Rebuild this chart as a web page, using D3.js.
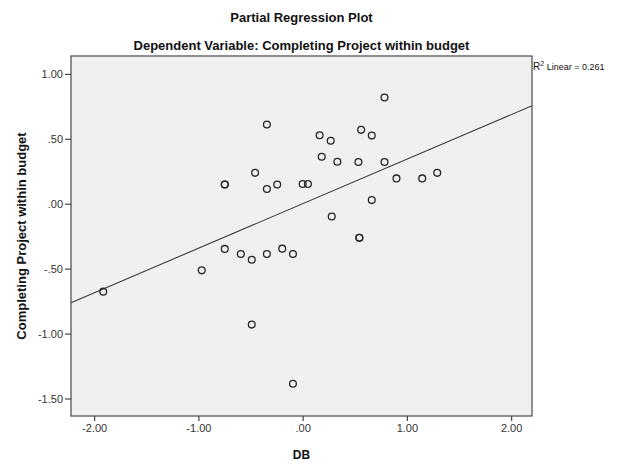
<!DOCTYPE html>
<html>
<head>
<meta charset="utf-8">
<script src="https://cdn.jsdelivr.net/npm/d3@7"></script>
<style>
  body { margin: 0; background: #fff; }
  text { font-family: "Liberation Sans", Arial, sans-serif; }
</style>
</head>
<body>
<div id="chart"></div>
<script>
// partial residuals
const dbValues = [0.785, -0.343, 0.163, 0.269, 0.561, 0.663, 0.183, 0.333, 0.535, 0.785,
  -0.747, -0.747, -0.456, -0.343, -0.244, 0.0, 0.051, 0.9, 1.147, 1.291,
  0.663, 0.279, 0.544, 0.544, -0.747, -0.593, -0.488, -0.343, -0.196, -0.093,
  -0.968, -0.488, -0.093, -1.913];
const budgetValues = [0.818, 0.61, 0.528, 0.485, 0.569, 0.525, 0.362, 0.323, 0.321, 0.321,
  0.148, 0.148, 0.238, 0.113, 0.148, 0.152, 0.152, 0.195, 0.195, 0.238,
  0.028, -0.098, -0.262, -0.262, -0.348, -0.387, -0.431, -0.387, -0.346, -0.387,
  -0.513, -0.931, -1.387, -0.677];
const xTicks = [-2, -1, 0, 1, 2];
const yTicks = [1, 0.5, 0, -0.5, -1, -1.5];
const fitSlope = 0.343;
const fitIntercept = 0.0;
const rSquared = 0.261;

const width = 631, height = 464;
const margin = { top: 56, right: 99, bottom: 48, left: 71 };
const innerWidth = width - margin.left - margin.right;
const innerHeight = height - margin.top - margin.bottom;

// SPSS style: ".50", "-1.00", plain hyphen
const fmt = v => {
  const s = Math.abs(v).toFixed(2).replace(/^0\./, ".");
  return (v < 0 ? "-" : "") + s;
};

const svg = d3.select("#chart").append("svg")
  .attr("width", width)
  .attr("height", height);

const g = svg.append("g").attr("transform", `translate(${margin.left}, ${margin.top})`);

const xScale = d3.scaleLinear().domain([-2.222, 2.2]).range([0, innerWidth]);
const yScale = d3.scaleLinear().domain([-1.635, 1.138]).range([innerHeight, 0]);

g.append("rect")
  .attr("width", innerWidth)
  .attr("height", innerHeight)
  .attr("fill", "#f0f0f0");

// fit line
const xd = xScale.domain();
g.append("line")
  .attr("x1", xScale(xd[0])).attr("y1", yScale(fitIntercept + fitSlope * xd[0]))
  .attr("x2", xScale(xd[1])).attr("y2", yScale(fitIntercept + fitSlope * xd[1]))
  .attr("stroke", "#3a3a3a")
  .attr("stroke-width", 1.1);

g.selectAll("circle.pt")
  .data(dbValues.map((d, i) => [d, budgetValues[i]]))
  .enter().append("circle")
  .attr("class", "pt")
  .attr("cx", d => xScale(d[0]))
  .attr("cy", d => yScale(d[1]))
  .attr("r", 3.4)
  .attr("fill", "none")
  .attr("stroke", "#262626")
  .attr("stroke-width", 1.3);

g.append("rect")
  .attr("width", innerWidth)
  .attr("height", innerHeight)
  .attr("fill", "none")
  .attr("stroke", "#555")
  .attr("stroke-width", 1.3);

const xAxis = g.append("g")
  .attr("transform", `translate(0, ${innerHeight})`)
  .call(d3.axisBottom(xScale).tickValues(xTicks).tickFormat(fmt).tickSize(5).tickPadding(3));
const yAxis = g.append("g")
  .call(d3.axisLeft(yScale).tickValues(yTicks).tickFormat(fmt).tickSize(6).tickPadding(2));

[xAxis, yAxis].forEach(a => {
  a.select(".domain").remove();
  a.selectAll(".tick line").attr("stroke", "#444").attr("stroke-width", 1.2);
  a.selectAll(".tick text")
    .attr("fill", "#333")
    .style("font-family", "'Liberation Sans', Arial, sans-serif")
    .style("font-size", "11px");
});

svg.append("text")
  .attr("x", margin.left + innerWidth / 2)
  .attr("y", 22)
  .attr("text-anchor", "middle")
  .style("font-size", "13px").style("font-weight", "bold")
  .attr("fill", "#111")
  .text("Partial Regression Plot");

svg.append("text")
  .attr("x", margin.left + innerWidth / 2)
  .attr("y", 50)
  .attr("text-anchor", "middle")
  .style("font-size", "13px").style("font-weight", "bold")
  .attr("fill", "#111")
  .text("Dependent Variable: Completing Project within budget");

svg.append("text")
  .attr("x", margin.left + innerWidth / 2)
  .attr("y", 459)
  .attr("text-anchor", "middle")
  .style("font-size", "12px").style("font-weight", "bold")
  .attr("fill", "#111")
  .text("DB");

svg.append("text")
  .attr("transform", `translate(26, ${margin.top + innerHeight / 2}) rotate(-90)`)
  .attr("text-anchor", "middle")
  .style("font-size", "13px").style("font-weight", "bold")
  .attr("fill", "#111")
  .text("Completing Project within budget");

const r2 = svg.append("text")
  .attr("x", margin.left + innerWidth + 1)
  .attr("y", 70)
  .style("font-size", "9px")
  .attr("fill", "#111");
r2.append("tspan").style("font-size", "10px").text("R");
r2.append("tspan").attr("dy", -4).style("font-size", "7px").text("2");
r2.append("tspan").attr("dy", 4).text(" Linear = " + rSquared.toFixed(3));
</script>
</body>
</html>
